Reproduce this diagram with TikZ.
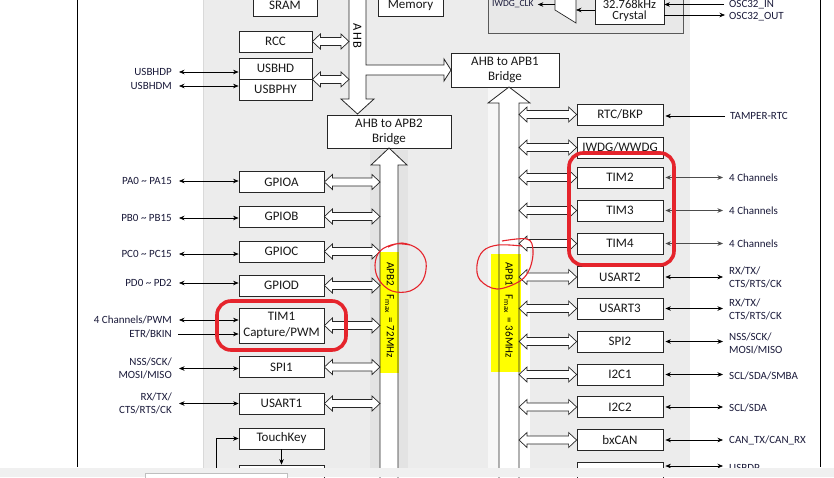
\documentclass[tikz,border=0pt]{standalone}
\usepackage{fontspec}
\setmainfont{Carlito}
\usetikzlibrary{arrows.meta,calc}
\definecolor{chip}{HTML}{ECECEC}
\definecolor{chipdk}{HTML}{E3E3E3}
\definecolor{chiplt}{HTML}{F7F7F7}
\definecolor{labc}{HTML}{1A1A3A}
\definecolor{hlred}{HTML}{E5242C}
\definecolor{ylw}{HTML}{FFFF00}
\definecolor{stripc}{HTML}{F0F0F0}
\definecolor{wdgbox}{HTML}{E8E8E8}
\newcommand\dbl[2]{\draw[barrow] let \p1=(#1), \p2=(#2) in
  (\x1,\y1) -- (\x1+8pt,\y1+7.5pt) -- (\x1+8pt,\y1+4pt) -- (\x2-8pt,\y1+4pt) -- (\x2-8pt,\y1+7.5pt) --
  (\x2,\y1) -- (\x2-8pt,\y1-7.5pt) -- (\x2-8pt,\y1-4pt) -- (\x1+8pt,\y1-4pt) -- (\x1+8pt,\y1-7.5pt) -- cycle;}
\begin{document}
\begin{tikzpicture}[x=1pt,y=-1pt,
  box/.style={draw=black!85,fill=white,line width=0.8pt,minimum height=21pt,inner sep=0pt,font=\fontsize{13}{15}\selectfont,text=black!90},
  lbox/.style={box,minimum width=85pt},
  rbox/.style={box,minimum width=86pt},
  lab/.style={font=\fontsize{11}{13}\selectfont,text=labc,inner sep=0pt},
  labl/.style={lab,anchor=east,align=right},
  labr/.style={lab,anchor=west,align=left},
  sarr/.style={{Stealth[length=5.5pt,width=4.5pt]}-{Stealth[length=5.5pt,width=4.5pt]},line width=0.6pt,draw=black},
  garr/.style={sarr,draw=black!70},
  rarr/.style={-{Stealth[length=5.5pt,width=4.5pt]},line width=0.6pt,draw=black},
  barrow/.style={draw=black!85,fill=white,line width=0.7pt},
  busline/.style={draw=black!85,line width=0.8pt},
  hl/.style={draw=hlred,line width=3.6pt,rounded corners=14pt},
  circ/.style={draw=hlred,line width=1.1pt},
  ylab/.style={rotate=-90,inner sep=0pt,font=\fontsize{11}{12}\selectfont}
]
\useasboundingbox (0,0) rectangle (834,477);
\clip (0,0) rectangle (834,477);
\fill[white] (0,0) rectangle (834,477);
% chip background
\fill[chip] (203,-5) rectangle (690,468);
\draw[black!15,line width=0.8pt] (203,-5) -- (203,468);
\fill[chipdk] (370,150) rectangle (408,468);
\fill[chiplt] (488,87) rectangle (530,468);
\fill[white] (519,100) rectangle (530,468);
% outer lines
\draw[line width=1pt] (77,-5) -- (77,467);
\draw[line width=1pt] (820,-5) -- (820,467);
% top right watchdog / crystal block
\draw[black!65,fill=wdgbox,line width=0.8pt] (488,-5) rectangle (683,33);
\draw[black!85,fill=white,line width=0.7pt] (555,-5) -- (555,10) -- (576,23) -- (576,-5);
\coordinate (muxL) at (555,4.5);
\coordinate (muxR) at (576,10);
\node[lab,anchor=west,font=\fontsize{9.5}{11}\selectfont] (iwdgclk) at (492,4.5) {IWDG\_CLK};
\node[box,minimum width=69pt,minimum height=27pt,align=center,font=\fontsize{12.5}{11}\selectfont] (xtal) at (629.5,10.5) {32.768kHz\\Crystal};
\draw[rarr] (xtal.west |- muxR) -- (muxR);
\draw[rarr] (muxL) -- ([xshift=4pt]iwdgclk.east |- muxL);
\node[labr] (oscin) at (729,4.5) {OSC32\_IN};
\node[labr] (oscout) at (729,17) {OSC32\_OUT};
\draw[rarr] ([xshift=-5pt]oscin.west) -- (oscin.west -| xtal.east);
\draw[rarr] (xtal.east |- 0,15) -- ([xshift=-4pt]oscout.west |- 0,15);
% memories
\node[box,minimum width=64pt] (sram) at (285,5.5) {SRAM};
\node[box,minimum width=65pt] (mem) at (410.5,5.5) {Memory};
% AHB bus
\coordinate (ahbL) at (349,0);
\fill[white] (349,-5) -- (349,99) -- (341,99) -- (357.5,114) -- (374,99) -- (366,99) -- (366,-5) -- cycle;
\fill[white] (366,65) -- (444,65) -- (444,59) -- (451,70) -- (444,81) -- (444,75) -- (366,75) -- cycle;
\draw[busline] (349,-5) -- (349,99) -- (341,99) -- (357.5,114) -- (374,99) -- (366,99) -- (366,75) -- (444,75) -- (444,81) -- (451,70) -- (444,59) -- (444,65) -- (366,65) -- (366,-5);
\node[font=\fontsize{12.5}{14}\selectfont,rotate=-90,inner sep=0pt] (ahb) at (357.5,36) {A\kern1.2pt H\kern1.2pt B};
% bridges
\node[box,minimum width=124pt,minimum height=33pt,align=center] (br2) at (389,131.5) {AHB to APB2\\Bridge};
\node[box,minimum width=108pt,minimum height=34pt,align=center] (br1) at (505,70) {AHB to APB1\\Bridge};
% APB buses
\coordinate (b2L) at (380,0);
\coordinate (b1R) at (519,0);
\fill[white] (380,480) -- (380,165) -- (371,165) -- (389,148) -- (407,165) -- (398,165) -- (398,480) -- cycle;
\fill[white] (499,480) -- (499,103) -- (488,103) -- (509,87) -- (530,103) -- (519,103) -- (519,480) -- cycle;
\fill[ylw] (380,252) rectangle (399,373);
\fill[ylw] (491,254) rectangle (521,372);
\draw[busline] (380,480) -- (380,165) -- (371,165) -- (389,148) -- (407,165) -- (398,165) -- (398,480);
\draw[busline] (499,480) -- (499,103) -- (488,103) -- (509,87) -- (530,103) -- (519,103) -- (519,480);
\node[ylab] (apb2) at (389.5,310) {APB2\hspace{9pt}F\textsubscript{max}\hspace{4pt}=\hspace{3pt}72MHz};
\node[ylab] (apb1) at (508.5,310) {APB1\hspace{9pt}F\textsubscript{max}\hspace{4pt}=\hspace{3pt}36MHz};
% left AHB peripherals
\node[box,minimum width=73pt] (rcc) at (275.5,41.5) {RCC};
\node[box,minimum width=73pt] (usbhd) at (275.5,68.5) {USBHD};
\node[box,minimum width=73pt] (usbphy) at (275.5,89.5) {USBPHY};
\dbl{rcc.east}{rcc.east -| ahbL}
\dbl{usbhd.south east}{usbhd.south east -| ahbL}
\node[labl] (usbdp) at (172,72) {USBHDP};
\node[labl] (usbdm) at (172,86) {USBHDM};
\draw[sarr] ([xshift=7pt]usbdp.east) -- (usbdp.east -| usbhd.west);
\draw[sarr] ([xshift=7pt]usbdm.east) -- (usbdm.east -| usbhd.west);
% left APB2 peripherals
\node[lbox] (gpioa) at (281.5,182) {GPIOA};
\node[lbox] (gpiob) at (281.5,216.5) {GPIOB};
\node[lbox] (gpioc) at (281.5,251.5) {GPIOC};
\node[lbox] (gpiod) at (281.5,285.5) {GPIOD};
\node[lbox,minimum height=35pt,align=center,font=\fontsize{13}{16}\selectfont] (tim1) at (281.5,325.5) {TIM1\\Capture/PWM};
\node[lbox] (spi1) at (281.5,367) {SPI1};
\node[lbox] (usart1) at (281.5,403.5) {USART1};
\node[lbox] (touch) at (281.5,438.5) {TouchKey};
\node[lbox] (lnext) at (281.5,475.5) {};
\foreach \nm in {gpioa,gpiob,gpioc,gpiod,tim1,spi1,usart1}{\dbl{\nm.east}{\nm.east -| b2L}}
\node[labl] (pa) at (172,181) {PA0 \textasciitilde{} PA15};
\node[labl] (pb) at (172,218) {PB0 \textasciitilde{} PB15};
\node[labl] (pc) at (172,254) {PC0 \textasciitilde{} PC15};
\node[labl] (pd) at (172,283) {PD0 \textasciitilde{} PD2};
\node[labl] (t1ch) at (172,320) {4 Channels/PWM};
\node[labl] (t1etr) at (172,334) {ETR/BKIN};
\node[labl] (s1) at (172,368.5) {NSS/SCK/\\MOSI/MISO};
\node[labl] (u1) at (172,403.5) {RX/TX/\\CTS/RTS/CK};
\draw[sarr] ([xshift=7pt]pa.east) -- (pa.east -| gpioa.west);
\draw[sarr] ([xshift=7pt]pb.east) -- (pb.east -| gpiob.west);
\draw[sarr] ([xshift=7pt]pc.east) -- (pc.east -| gpioc.west);
\draw[sarr] ([xshift=7pt]pd.east) -- (pd.east -| gpiod.west);
\draw[sarr] ([xshift=7pt]t1ch.east) -- (t1ch.east -| tim1.west);
\draw[rarr] ([xshift=6pt]t1etr.east) -- (t1etr.east -| tim1.west);
\draw[sarr] ([xshift=7pt]s1.east) -- (s1.east -| spi1.west);
\draw[sarr] ([xshift=7pt]u1.east) -- (u1.east -| usart1.west);
\coordinate (tkin) at (216,480);
\draw[rarr] (tkin) -- (tkin |- touch.west) -- (touch.west);
\draw[rarr] (touch.south) -- (lnext.north);
% right APB1 peripherals
\node[rbox] (rtc) at (620,114.5) {RTC/BKP};
\node[rbox] (wdg) at (620,147.5) {IWDG/WWDG};
\node[rbox] (tim2) at (620,177.5) {TIM2};
\node[rbox] (tim3) at (620,210.5) {TIM3};
\node[rbox] (tim4) at (620,243.5) {TIM4};
\node[rbox] (usart2) at (620,277) {USART2};
\node[rbox] (usart3) at (620,308.5) {USART3};
\node[rbox] (spi2) at (620,341.5) {SPI2};
\node[rbox] (i2c1) at (620,374.5) {I2C1};
\node[rbox] (i2c2) at (620,407) {I2C2};
\node[rbox] (can) at (620,440) {bxCAN};
\node[rbox] (rnext) at (620,472.5) {};
\foreach \nm in {rtc,wdg,tim2,tim3,tim4,usart2,usart3,spi2,i2c1,i2c2,can}{\dbl{\nm.west -| b1R}{\nm.west}}
\node[labr] (tamper) at (730,116) {TAMPER-RTC};
\draw[rarr] ([xshift=-5pt]tamper.west) -- ([xshift=2pt]tamper.west -| rtc.east);
\node[labr] (c2) at (729,178) {4 Channels};
\node[labr] (c3) at (729,211) {4 Channels};
\node[labr] (c4) at (729,243.5) {4 Channels};
\node[labr] (u2) at (729,277) {RX/TX/\\CTS/RTS/CK};
\node[labr] (u3) at (729,309.5) {RX/TX/\\CTS/RTS/CK};
\node[labr] (s2) at (729,343) {NSS/SCK/\\MOSI/MISO};
\node[labr] (i1) at (729,376) {SCL/SDA/SMBA};
\node[labr] (i2) at (729,408) {SCL/SDA};
\node[labr] (cn) at (729,440.5) {CAN\_TX/CAN\_RX};
\node[labr] (udp) at (729,468) {USBDP};
\draw[garr] ([xshift=2pt]tim2.east) -- ([xshift=-6pt]tim2.east -| c2.west);
\draw[garr] ([xshift=2pt]tim3.east) -- ([xshift=-6pt]tim3.east -| c3.west);
\draw[garr] ([xshift=2pt]tim4.east) -- ([xshift=-6pt]tim4.east -| c4.west);
\draw[sarr] ([xshift=2pt]usart2.east) -- ([xshift=-6pt]usart2.east -| u2.west);
\draw[sarr] ([xshift=2pt]usart3.east) -- ([xshift=-6pt]usart3.east -| u3.west);
\draw[sarr] ([xshift=2pt]spi2.east) -- ([xshift=-6pt]spi2.east -| s2.west);
\draw[sarr] ([xshift=2pt]i2c1.east) -- ([xshift=-6pt]i2c1.east -| i1.west);
\draw[sarr] ([xshift=2pt]i2c2.east) -- ([xshift=-6pt]i2c2.east -| i2.west);
\draw[sarr] ([xshift=2pt]can.east) -- ([xshift=-6pt]can.east -| cn.west);
\coordinate (rnextarr) at ([xshift=2pt]rnext.east |- 0,466);
\draw[sarr] (rnextarr) -- ([xshift=-6pt]udp.west |- rnextarr);
% red highlights
\draw[hl] (217,301) rectangle (346,350);
\draw[hl] (569,153) rectangle (674,265);
\draw[circ] plot[smooth,tension=0.6] coordinates {(388,247) (402,243) (418,249) (426,262) (423,280) (410,291) (392,291) (379,280) (375,265) (380,251) (395,244) (410,245)};
\draw[circ] plot[smooth,tension=0.6] coordinates {(502,241) (527,239) (533,250) (530,268) (520,281) (497,289) (480,280) (477,265) (483,251) (498,245) (522,246)};
% bottom strip
\fill[stripc] (0,468) rectangle (834,477);
\draw[black!25,fill=white,line width=0.8pt] (145,473) rectangle (287,482);
\end{tikzpicture}
\end{document}
